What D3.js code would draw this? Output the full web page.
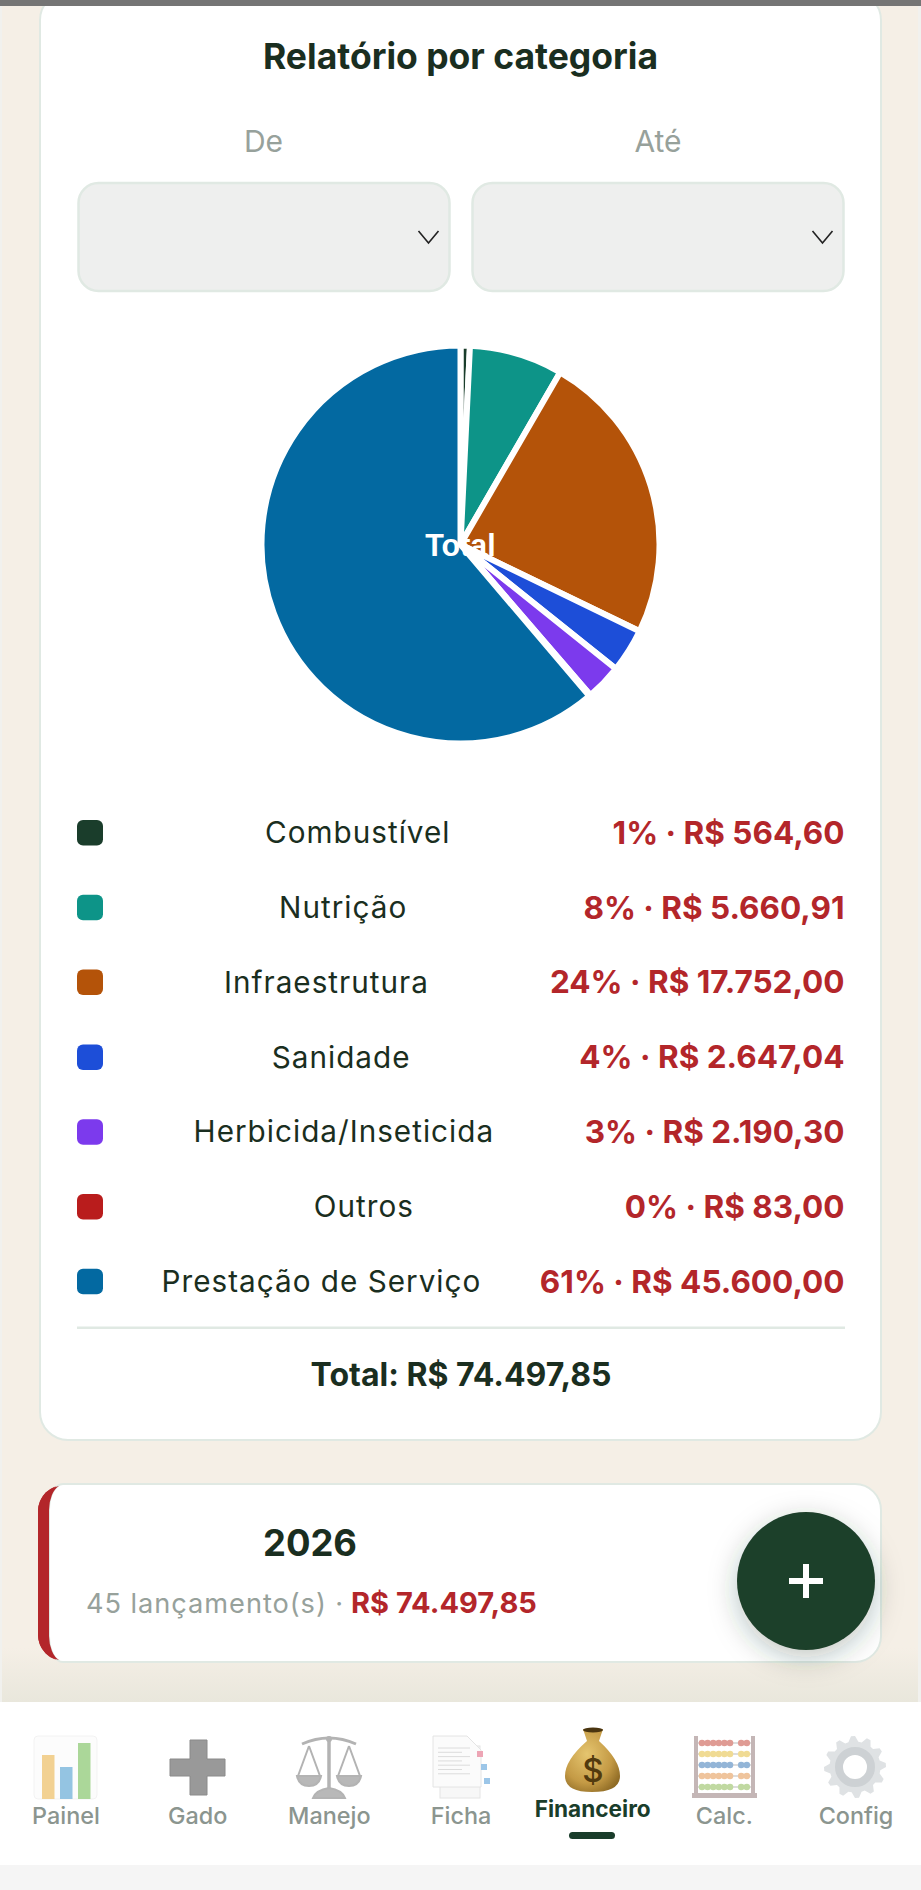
<!DOCTYPE html>
<html lang="pt-BR"><head><meta charset="utf-8">
<script src="https://cdn.jsdelivr.net/npm/d3@7/dist/d3.min.js"></script>
<style>html,body{margin:0;padding:0;background:#f5efe6}svg{display:block}text{font-family:Inter,sans-serif}</style>
</head><body><div id="app"></div>
<script>
const categories=["Combustível","Nutrição","Infraestrutura","Sanidade","Herbicida/Inseticida","Outros","Prestação de Serviço"];
const amounts=[564.60,5660.91,17752.00,2647.04,2190.30,83.00,45600.00];
const percents=["1%","8%","24%","4%","3%","0%","61%"];
const colors=["#1a3d2b","#0d9488","#b45309","#1d4ed8","#7c3aed","#b91c1c","#0369a1"];
const totalLabel="Total: R$ 74.497,85";
const navItems=["Painel","Gado","Manejo","Ficha","Financeiro","Calc.","Config"];

const W=921,H=1890,INK="#1a2e20",RED="#b3262a",MUTED="#97a19b",LINE="#e0e9e3",DARK="#1f3f2a";
const svg=d3.select("#app").append("svg").attr("width",W).attr("height",H).attr("viewBox",`0 0 ${W} ${H}`);
const defs=svg.append("defs");
const g1=defs.append("linearGradient").attr("id","navShade").attr("x1",0).attr("x2",0).attr("y1",0).attr("y2",1);
g1.append("stop").attr("offset",0).attr("stop-color","#f5efe6");
g1.append("stop").attr("offset",1).attr("stop-color","#e9e7dc");
const bag=defs.append("radialGradient").attr("id","bag").attr("cx",.4).attr("cy",.4).attr("r",.7);
bag.append("stop").attr("offset",0).attr("stop-color","#e5c56f");
bag.append("stop").attr("offset",.65).attr("stop-color","#c49a45");
bag.append("stop").attr("offset",1).attr("stop-color","#8f6b25");
defs.append("filter").attr("id","fabShadow").attr("x","-50%").attr("y","-50%").attr("width","200%").attr("height","200%")
  .append("feDropShadow").attr("dx",0).attr("dy",8).attr("stdDeviation",14).attr("flood-color","#1a3d2b").attr("flood-opacity",.28);

const txt=(x,y,s,size,weight,fill,anchor="middle",ls=0,p=svg)=>p.append("text").attr("x",x).attr("y",y).attr("font-size",size).attr("font-weight",weight).attr("fill",fill).attr("text-anchor",anchor).attr("letter-spacing",ls).text(s);

// page
svg.append("rect").attr("width",W).attr("height",H).attr("fill","#f5efe6");
svg.append("rect").attr("y",1648).attr("width",W).attr("height",54).attr("fill","url(#navShade)");
svg.append("rect").attr("width",2).attr("height",1702).attr("fill","#f1f1ee");
svg.append("rect").attr("x",918).attr("width",3).attr("height",1702).attr("fill","#f1f1ee");

// main card
svg.append("rect").attr("x",40).attr("y",-8).attr("width",841).attr("height",1448).attr("rx",28)
  .attr("fill","#fff").attr("stroke",LINE).attr("stroke-width",2);
svg.append("rect").attr("width",W).attr("height",6).attr("fill","#757575");
txt(460.5,69,"Relatório por categoria",35.5,700,INK);
[["De",263.5,77.5],["Até",658,471.5]].forEach(([s,cx,x])=>{
  txt(cx,152,s,30,400,MUTED);
  svg.append("rect").attr("x",x+1).attr("y",183).attr("width",371).attr("height",108).attr("rx",20)
    .attr("fill","#eeefee").attr("stroke",LINE).attr("stroke-width",2.5);
  const c=x+351;
  svg.append("path").attr("d",d3.line()([[c-10,231],[c,243],[c+10,231]])).attr("fill","none").attr("stroke","#222").attr("stroke-width",1.6);
});

// pie
const pie=d3.pie().value(d=>d).sort(null);
const arc=d3.arc().innerRadius(0).outerRadius(199);
const pg=svg.append("g").attr("transform","translate(460.5,544.5)");
pg.selectAll("path").data(pie(amounts)).join("path").attr("d",arc)
  .attr("fill",(d,i)=>colors[i]).attr("stroke","#fff").attr("stroke-width",6).attr("stroke-linejoin","round");
pg.append("text").attr("y",11).attr("text-anchor","middle").attr("fill","#fff")
  .attr("font-size",30.5).attr("font-weight",700).style("font-family","'Liberation Sans',Arial,sans-serif").text("Total");

// legend
const fmt=v=>"R$ "+v.toLocaleString("pt-BR",{minimumFractionDigits:2,maximumFractionDigits:2});
const rowY=d3.scalePoint().domain(categories).range([832.7,1281.5]);
const rows=svg.selectAll("g.row").data(categories).join("g").attr("class","row");
rows.each(function(c,i){
  const r=d3.select(this),y=rowY(c);
  r.append("rect").attr("x",77).attr("y",y-12.7).attr("width",26).attr("height",25.5).attr("rx",6).attr("fill",colors[i]);
  const v=txt(844.5,y+11,percents[i]+" · "+fmt(amounts[i]),31.5,700,RED,"end",0,r);
  const left=844.5-v.node().getComputedTextLength();
  txt((103+left)/2,y+10.5,c,29.7,400,INK,"middle",1,r);
});
svg.append("line").attr("x1",77).attr("x2",845).attr("y1",1327.7).attr("y2",1327.7).attr("stroke",LINE).attr("stroke-width",2.5);
txt(461,1385.5,totalLabel,32,700,INK);

// year card
svg.append("path").attr("d","M64 1485 H855 A26 26 0 0 1 881 1511 V1635 A26 26 0 0 1 855 1661 H64 A26 26 0 0 1 38 1635 V1511 A26 26 0 0 1 64 1485Z").attr("fill",RED);
svg.append("path").attr("d","M63 1484 H855 A26 26 0 0 1 881 1510 V1636 A26 26 0 0 1 855 1662 H63 A14 26 0 0 1 49 1636 V1510 A14 26 0 0 1 63 1484Z").attr("fill","#fff").attr("stroke",LINE).attr("stroke-width",2);
svg.append("path").attr("d","M59 1486 A26 26 0 0 0 38 1511 V1635 A26 26 0 0 0 59 1660 A14 26 0 0 1 49 1636 V1510 A14 26 0 0 1 59 1486Z").attr("fill",RED);
txt(310,1555.5,"2026",36.4,700,INK);
const sub=txt(86,1613,"45 lançamento(s) ·",27.2,400,MUTED,"start",.95);
txt(351,1613,"R$ 74.497,85",29,700,RED,"start");
svg.append("circle").attr("cx",806).attr("cy",1581).attr("r",69).attr("fill",DARK).attr("filter","url(#fabShadow)");
svg.append("path").attr("d","M789 1581H823M806 1564V1598").attr("stroke","#fff").attr("stroke-width",6).attr("fill","none");

// bottom nav
svg.append("rect").attr("y",1702).attr("width",W).attr("height",163).attr("fill","#fff");
svg.append("rect").attr("y",1865).attr("width",W).attr("height",25).attr("fill","#f5f5f5");
const navX=d3.scalePoint().domain(navItems).range([66,856]);
navItems.forEach(n=>{const a=n==="Financeiro";
  txt(navX(n),a?1817:1824,n,a?22.6:23.4,a?700:500,a?"#1a3d2b":"#8b958f");});
svg.append("rect").attr("x",569).attr("y",1832).attr("width",46).attr("height",7).attr("rx",3.5).attr("fill","#1a3d2b");

// nav icons (emoji drawn as shapes)
const ic=svg.append("g");
// Painel
const p1=ic.append("g").attr("opacity",.55);
p1.append("rect").attr("x",34).attr("y",1736).attr("width",63).attr("height",63).attr("rx",4).attr("fill","#fafafa").attr("stroke","#e8e8e8");
[[42,1755,"#e8ad3a"],[60,1767,"#3d94cc"],[78,1743,"#67b846"]].forEach(([x,y,f])=>p1.append("rect").attr("x",x).attr("y",y).attr("width",12.5).attr("height",1799-y).attr("fill",f));
// Gado
ic.append("path").attr("d","M190 1740H207V1759H225V1776H207V1795H190V1776H170V1759H190Z").attr("fill","#999").attr("stroke","#8a8a8a");
// Manejo
const m=ic.append("g").attr("fill","none").attr("stroke","#b3b3b3").attr("stroke-width",2);
m.append("path").attr("d","M329 1738V1790").attr("stroke-width",3.5);
m.append("path").attr("d","M302 1744Q329 1732 356 1744").attr("stroke-width",3);
m.append("path").attr("d","M309 1746L298 1776M309 1746L320 1776M349 1746L338 1776M349 1746L360 1776");
m.append("path").attr("d","M297 1776H321Q319 1786 309 1786Q299 1786 297 1776ZM337 1776H361Q359 1786 349 1786Q339 1786 337 1776Z").attr("fill","#b8b8b8");
m.append("path").attr("d","M313 1798Q316 1790 329 1788Q342 1790 345 1798Z").attr("fill","#b8b8b8");
ic.append("circle").attr("cx",329).attr("cy",1739).attr("r",3).attr("fill","#b3b3b3");
// Ficha
const f=ic.append("g");
f.append("rect").attr("x",440).attr("y",1746).attr("width",40).attr("height",52).attr("fill","#f7f7f7").attr("stroke","#e4e4e4");
f.append("path").attr("d","M433 1736H467L481 1750V1787H433Z").attr("fill","#fbfbfb").attr("stroke","#e4e4e4");
d3.range(7).forEach(i=>f.append("line").attr("x1",438).attr("x2",i%2?462:470).attr("y1",1748+i*4.3).attr("y2",1748+i*4.3).attr("stroke","#dcdcdc"));
[[477,1751,"#eda5b5"],[481,1764,"#9cc6e8"],[484,1778,"#9cc6e8"]].forEach(([x,y,c])=>f.append("rect").attr("x",x).attr("y",y).attr("width",6).attr("height",6).attr("fill",c));
// Financeiro
const b=ic.append("g");
b.append("path").attr("d","M583 1729H603L599 1741Q620 1760 620 1776Q620 1792 592 1792Q565 1792 565 1776Q565 1760 587 1741Z").attr("fill","url(#bag)");
b.append("ellipse").attr("cx",593).attr("cy",1730).attr("rx",10).attr("ry",2.5).attr("fill","#4a3510");
b.append("text").attr("x",593).attr("y",1782).attr("text-anchor","middle").attr("font-size",33).attr("font-weight",500).attr("fill","#523a0e").attr("aria-hidden","true").text("$");
// Calc
const ab=ic.append("g").attr("opacity",.5);
ab.append("rect").attr("x",694).attr("y",1736).attr("width",4).attr("height",60).attr("fill","#8a7070");
ab.append("rect").attr("x",751).attr("y",1736).attr("width",4).attr("height",60).attr("fill","#8a7070");
ab.append("rect").attr("x",692).attr("y",1793).attr("width",65).attr("height",5).attr("fill","#8a7070");
["#c0392b","#e3b92c","#2a6db0","#e08a3c","#82b446"].forEach((c,i)=>{
  const y=1743+i*11;
  ab.append("line").attr("x1",698).attr("x2",751).attr("y1",y).attr("y2",y).attr("stroke","#777");
  [0,1,2,3,4,5,7,8].forEach(k=>ab.append("circle").attr("cx",702+k*5.6).attr("cy",y).attr("r",3.3).attr("fill",c));
});
// Config
const teeth=12,gear=d3.range(teeth*4).map(i=>{const t=i/(teeth*4)*2*Math.PI,r=(i%4<2)?31:25.5;return [855+r*Math.cos(t-.13),1767+r*Math.sin(t-.13)];});
ic.append("path").attr("d",d3.line()(gear)+"Z").attr("fill","#dfe2e4");
ic.append("circle").attr("cx",855).attr("cy",1767).attr("r",16).attr("fill","#fff").attr("stroke","#cdd1d4").attr("stroke-width",8);
</script></body></html>
